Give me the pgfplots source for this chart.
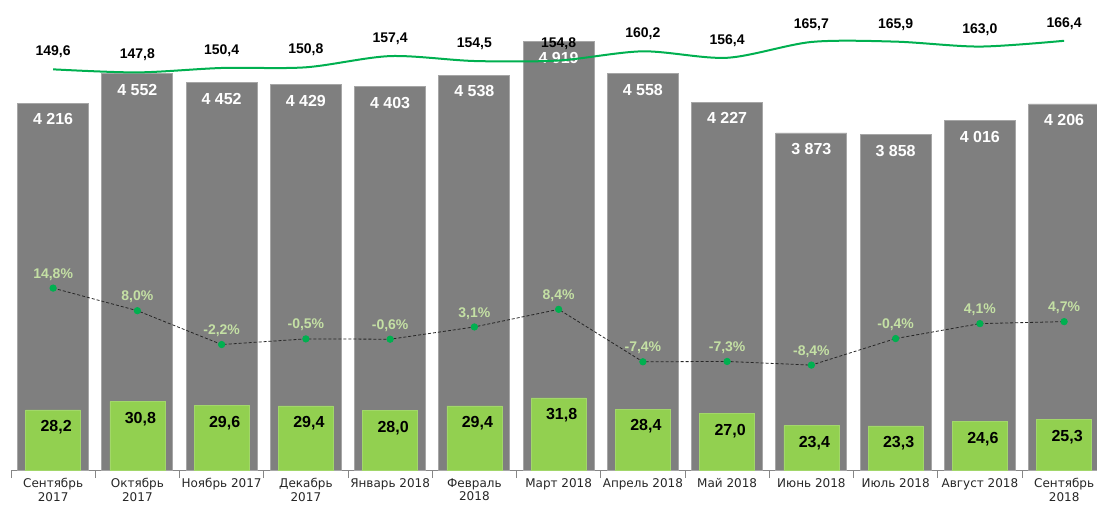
\documentclass[border=0pt]{standalone}
\usepackage{pgfplots}
\pgfplotsset{compat=1.18}
\usepackage{fontspec}
\setmainfont{Liberation Sans}
\newfontfamily\tickfont{DejaVu Sans}
\definecolor{barGray}{HTML}{7F7F7F}
\definecolor{barEdge}{HTML}{A6A6A6}
\definecolor{barGreen}{HTML}{92D050}
\definecolor{lineGreen}{HTML}{00B050}
\definecolor{pctLabel}{HTML}{C4E0A4}
\definecolor{axisGray}{HTML}{868686}
\pgfplotsset{
  base/.style={scale only axis, width=1086pt, height=470pt,
    xmin=-0.5, xmax=12.39, at={(11pt,36pt)}, anchor=south west,
    /pgf/number format/assume math mode=true},
}
\begin{document}
\begin{tikzpicture}
\useasboundingbox (0,0) rectangle (1097pt,506pt);
% gray bars
\begin{axis}[base, ymin=0, ymax=5400,
  axis x line=bottom, axis y line=none,
  x axis line style={-, draw=axisGray, line width=0.8pt},
  xtick={0,...,12},
  xticklabels={{Сентябрь\\2017},{Октябрь\\2017},{Ноябрь 2017},{Декабрь\\2017},{Январь 2018},{Февраль\\2018},{Март 2018},{Апрель 2018},{Май 2018},{Июнь 2018},{Июль 2018},{Август 2018},{Сентябрь\\2018}},
  xticklabel style={align=center, font=\tickfont\fontsize{12}{13.5}\selectfont, text=black!85, yshift=-5pt},
  major tick length=0pt,
  minor xtick={-0.5,0.5,...,12.5},
  minor tick length=8pt, tick align=center,
  minor tick style={axisGray, line width=0.8pt},
  ybar, bar width=71pt,
  nodes near coords={\pgfmathprintnumber[fixed,precision=0,1000 sep={\ }]{\pgfplotspointmeta}},
  every node near coord/.append style={anchor=north, yshift=-7pt, text=white, font=\bfseries\fontsize{16}{18}\selectfont},
]
\addplot[fill=barGray, draw=barEdge, line width=0.8pt] coordinates {
(0,4216) (1,4552) (2,4452) (3,4429) (4,4403) (5,4538) (6,4919)
(7,4558) (8,4227) (9,3873) (10,3858) (11,4016) (12,4206)};
\end{axis}
% green bars
\begin{axis}[base, hide axis, ymin=9.9, ymax=152.8,
  ybar, bar width=55pt,
  nodes near coords={\pgfmathprintnumber[fixed,fixed zerofill,precision=1,dec sep={,}]{\pgfplotspointmeta}},
  every node near coord/.append style={anchor=north, yshift=-7pt, xshift=3pt, text=black, font=\bfseries\fontsize{16}{18}\selectfont},
]
\addplot[fill=barGreen, draw=barGreen!85!white, line width=0.6pt] coordinates {
(0,28.2) (1,30.8) (2,29.6) (3,29.4) (4,28.0) (5,29.4) (6,31.8)
(7,28.4) (8,27.0) (9,23.4) (10,23.3) (11,24.6) (12,25.3)};
\end{axis}
% top line
\begin{axis}[base, hide axis, ymin=-86.1, ymax=190.4,
  nodes near coords={\pgfmathprintnumber[fixed,fixed zerofill,precision=1,dec sep={,}]{\pgfplotspointmeta}},
  every node near coord/.append style={anchor=south, yshift=7pt, text=black, font=\bfseries\fontsize{14}{16}\selectfont},
]
\addplot[smooth, lineGreen, line width=2pt, mark=none] coordinates {
(0,149.6) (1,147.8) (2,150.4) (3,150.8) (4,157.4) (5,154.5) (6,154.8)
(7,160.2) (8,156.4) (9,165.7) (10,165.9) (11,163.0) (12,166.4)};
\end{axis}
% percent line
\begin{axis}[base, hide axis, ymin=-40, ymax=101.6,
  nodes near coords={\pgfmathprintnumber[fixed,fixed zerofill,precision=1,dec sep={,}]{\pgfplotspointmeta}\%},
  every node near coord/.append style={anchor=south, yshift=4pt, text=pctLabel, font=\bfseries\fontsize{14}{16}\selectfont},
]
\addplot[densely dashed, black!85, line width=0.8pt, mark=*, mark size=3.2pt,
  mark options={solid, fill=lineGreen, draw=lineGreen}] coordinates {
(0,14.8) (1,8.0) (2,-2.2) (3,-0.5) (4,-0.6) (5,3.1) (6,8.4)
(7,-7.4) (8,-7.3) (9,-8.4) (10,-0.4) (11,4.1) (12,4.7)};
\end{axis}
\end{tikzpicture}
\end{document}
